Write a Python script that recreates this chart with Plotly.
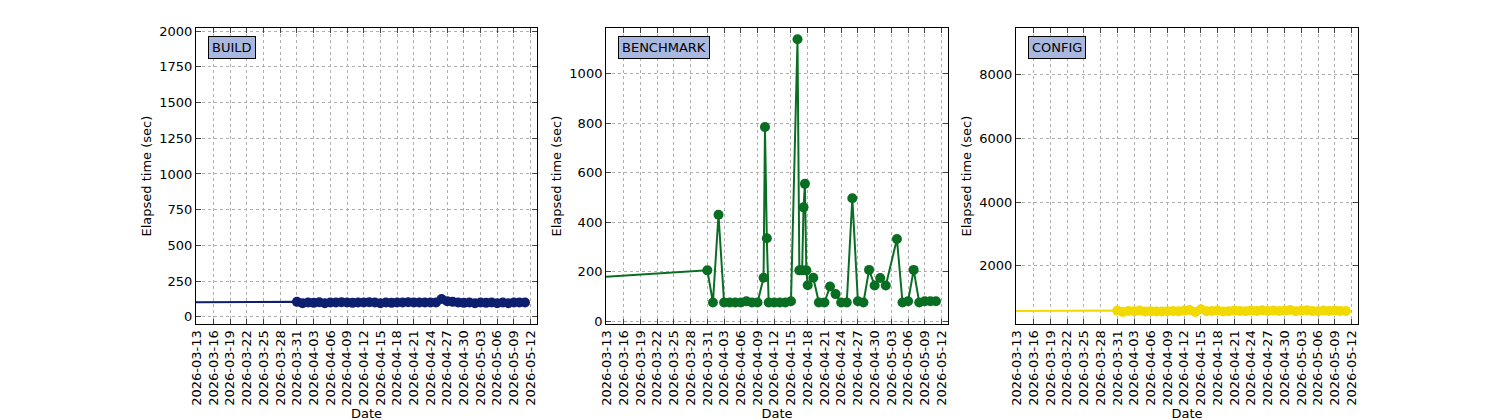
import plotly.graph_objects as go
import pandas as pd

build_dates = ["2026-02-20"] + [str(d.date()) for d in pd.date_range("2026-03-31", "2026-05-12")]
build_vals = [100, 105, 95, 100, 98, 102, 95, 100, 100, 102, 100, 98, 100, 100, 102, 100, 95, 100, 98, 100,
              100, 102, 100, 100, 100, 100, 100, 125, 110, 105, 100, 98, 100, 95, 100, 98, 100, 95, 100, 95, 100, 100, 100]

bench_dates = ["2026-02-20", "2026-03-31", "2026-04-01", "2026-04-02", "2026-04-03", "2026-04-04", "2026-04-05",
               "2026-04-06", "2026-04-07", "2026-04-08", "2026-04-09", "2026-04-10 02:00", "2026-04-10 08:00",
               "2026-04-10 16:00", "2026-04-11", "2026-04-12", "2026-04-13", "2026-04-14", "2026-04-15",
               "2026-04-16 04:00", "2026-04-16 12:00", "2026-04-17 00:00", "2026-04-17 06:00", "2026-04-17 12:00",
               "2026-04-17 18:00", "2026-04-18", "2026-04-19", "2026-04-20", "2026-04-21", "2026-04-22",
               "2026-04-23", "2026-04-24", "2026-04-25", "2026-04-26", "2026-04-27", "2026-04-28", "2026-04-29",
               "2026-04-30", "2026-05-01", "2026-05-02", "2026-05-04", "2026-05-05", "2026-05-06", "2026-05-07",
               "2026-05-08", "2026-05-09", "2026-05-10", "2026-05-11"]
bench_vals = [150, 205, 75, 430, 75, 75, 75, 75, 80, 75, 75, 175, 785, 335, 75, 75, 75, 75, 80,
              1140, 205, 205, 460, 555, 205, 145, 175, 75, 75, 140, 109, 75, 75, 497, 80, 75, 207,
              144, 174, 144, 332, 75, 80, 207, 75, 80, 80, 80]

config_dates = build_dates
config_vals = [580, 600, 560, 590, 580, 600, 570, 580, 575, 570, 580, 590, 580, 600, 620, 560, 640, 580, 590, 600,
               570, 580, 600, 590, 580, 600, 590, 610, 590, 600, 590, 600, 620, 580, 600, 610, 590, 580, 600, 590, 600, 590, 590]

ticks = [str(d.date()) for d in pd.date_range("2026-03-13", "2026-05-12", freq="3D")]
panels = [("BUILD", build_dates, build_vals, "#0d1f6e", [-50, 2020], 250),
          ("BENCHMARK", bench_dates, bench_vals, "#0a6e22", [-12, 1185], 200),
          ("CONFIG", config_dates, config_vals, "#f2d900", [180, 9450], 2000)]
doms = [[0.1253, 0.3527], [0.3987, 0.6267], [0.672, 0.9]]

fig = go.Figure()
for i, (name, d, v, c, yr, dt) in enumerate(panels):
    n = "" if i == 0 else str(i + 1)
    fig.add_trace(go.Scatter(x=d, y=v, mode="lines+markers", line=dict(color=c, width=2),
                             marker=dict(size=10, color=c), xaxis="x" + n, yaxis="y" + n, showlegend=False))
    ax = dict(domain=doms[i], type="date", range=["2026-03-12 20:00", "2026-05-13 04:00"],
              tickvals=ticks, ticktext=ticks, tickangle=-90, ticks="inside", mirror="allticks",
              showline=True, linecolor="black", showgrid=True, gridcolor="#b0b0b0", griddash="3px,3px",
              title=dict(text="Date", standoff=2, font=dict(size=13)), anchor="y" + n, ticklen=5,
              zeroline=False, automargin=False, tickfont=dict(size=13))
    ay = dict(domain=[0.2476, 0.952], range=yr, dtick=dt, tick0=0, ticks="inside", mirror="allticks",
              showline=True, linecolor="black", showgrid=True, gridcolor="#b0b0b0", griddash="3px,3px",
              title=dict(text="Elapsed time (sec)", standoff=4, font=dict(size=13)), anchor="x" + n, ticklen=5,
              zeroline=False, automargin=False, tickfont=dict(size=13))
    fig.update_layout(**{"xaxis" + n: ax, "yaxis" + n: ay})
    fig.add_annotation(text=name, xref="x" + n + " domain", yref="y" + n + " domain", x=0.035, y=0.975,
                       xanchor="left", yanchor="top", showarrow=False, bgcolor="#a9b8df",
                       bordercolor="black", borderwidth=1, borderpad=3, font=dict(size=13, color="black"))

fig.update_layout(width=1500, height=420, autosize=False, margin=dict(l=0, r=0, t=0, b=0),
                  plot_bgcolor="white", paper_bgcolor="white",
                  font=dict(family="DejaVu Sans", size=13, color="black"))
fig.write_html("out.html")
